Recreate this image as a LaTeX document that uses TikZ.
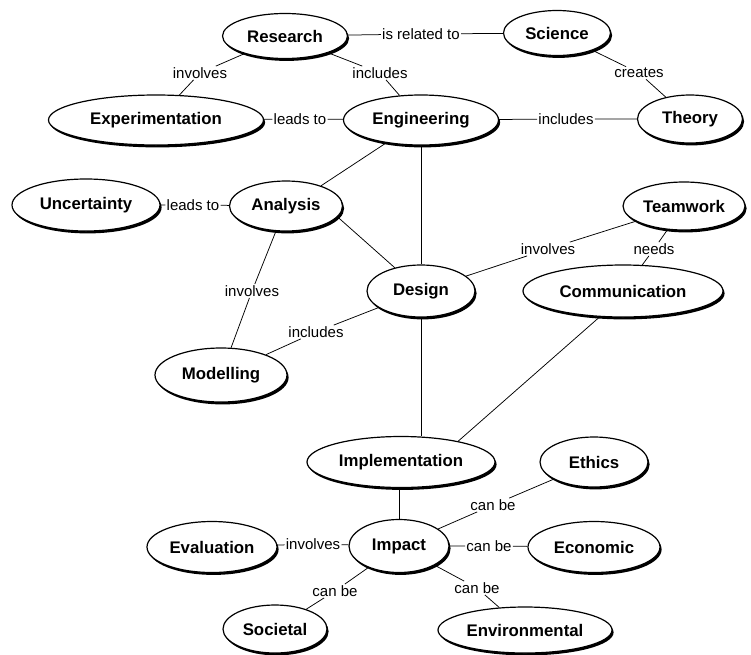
\documentclass[tikz,border=0pt]{standalone}
\usepackage{fontspec}
\setmainfont{Liberation Sans}
\usetikzlibrary{shapes.geometric,shadows}
\begin{document}
\begin{tikzpicture}[x=1pt,y=-1pt,
 concept/.style={ellipse, draw=black, line width=1.2pt, fill=white, inner sep=0pt,
   font=\bfseries\fontsize{16.8}{19}\selectfont,
   drop shadow={shadow xshift=1.6pt, shadow yshift=-2.4pt, fill=black, opacity=1}},
 lbl/.style={fill=white, inner sep=1.2pt, font=\fontsize{15}{17}\selectfont},
 link/.style={draw=black, line width=0.75pt}]
\useasboundingbox[fill=white] (0,0) rectangle (751,654);
% concepts
\node[concept, minimum width=125pt, minimum height=45pt] (research) at (285,36) {Research};
\node[concept, minimum width=107pt, minimum height=45pt] (science) at (557,33) {Science};
\node[concept, minimum width=215pt, minimum height=50pt] (exp) at (156,120) {Experimentation};
\node[concept, minimum width=155pt, minimum height=50pt] (eng) at (421,120) {Engineering};
\node[concept, minimum width=105pt, minimum height=48pt] (theory) at (690,119) {Theory};
\node[concept, minimum width=148pt, minimum height=52pt] (unc) at (86,205) {Uncertainty};
\node[concept, minimum width=113pt, minimum height=50pt] (analysis) at (286,206) {Analysis};
\node[concept, minimum width=122pt, minimum height=48pt] (teamwork) at (684,206) {Teamwork};
\node[concept, minimum width=108pt, minimum height=52pt] (design) at (421,291) {Design};
\node[concept, minimum width=200pt, minimum height=52pt] (comm) at (623,291) {Communication};
\node[concept, minimum width=132pt, minimum height=54pt] (modelling) at (221,375) {Modelling};
\node[concept, minimum width=188pt, minimum height=51pt] (impl) at (401,462) {Implementation};
\node[concept, minimum width=108pt, minimum height=50pt] (ethics) at (594,462) {Ethics};
\node[concept, minimum width=100pt, minimum height=53pt] (impact) at (399,546) {Impact};
\node[concept, minimum width=130pt, minimum height=51pt] (evaluation) at (212,547) {Evaluation};
\node[concept, minimum width=132pt, minimum height=51pt] (economic) at (594,547) {Economic};
\node[concept, minimum width=104pt, minimum height=48pt] (societal) at (275,629) {Societal};
\node[concept, minimum width=174pt, minimum height=46pt] (environmental) at (525,630) {Environmental};
% labels
\node[lbl] (l1) at (421,34) {is related to};
\node[lbl] (l2) at (200,73) {involves};
\node[lbl] (l3) at (380,73) {includes};
\node[lbl] (l4) at (639,73) {creates};
\node[lbl] (l5) at (300,119) {leads to};
\node[lbl] (l6) at (566,119) {includes};
\node[lbl] (l7) at (193,205) {leads to};
\node[lbl] (l8) at (252,291) {involves};
\node[lbl] (l9) at (316,332) {includes};
\node[lbl] (l10) at (548,249) {involves};
\node[lbl] (l11) at (654,249) {needs};
\node[lbl] (l12) at (493,505) {can be};
\node[lbl] (l13) at (313,544) {involves};
\node[lbl] (l14) at (489,546) {can be};
\node[lbl] (l15) at (335,591) {can be};
\node[lbl] (l16) at (477,588) {can be};
% connectors
\path[link] (research) -- (l1) -- (science);
\path[link] (research) -- (l2) -- (exp);
\path[link] (research) -- (l3) -- (eng);
\path[link] (science) -- (l4) -- (theory);
\path[link] (exp) -- (l5) -- (eng);
\path[link] (eng) -- (l6) -- (theory);
\path[link] (unc) -- (l7) -- (analysis);
\path[link] (eng) -- (analysis.30);
\path[link] (eng) -- (design);
\path[link] (analysis.-12) -- (design);
\path[link] (analysis) -- (l8) -- (modelling);
\path[link] (modelling) -- (l9) -- (design);
\path[link] (design) -- (l10) -- (teamwork);
\path[link] (teamwork) -- (l11) -- (comm);
\path[link] (design.south) -- (design.south |- impl.north);
\path[link] (comm.228) -- (impl.20);
\path[link] (impact.north) -- (impact.north |- impl.south);
\path[link] (impact) -- (l12) -- (ethics);
\path[link] (evaluation) -- (l13) -- (impact);
\path[link] (impact) -- (l14) -- (economic);
\path[link] (impact) -- (l15) -- (societal);
\path[link] (impact) -- (l16) -- (environmental);
\end{tikzpicture}
\end{document}
